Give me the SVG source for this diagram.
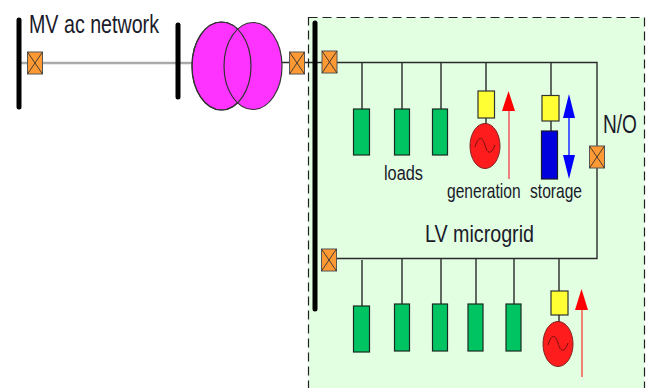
<svg xmlns="http://www.w3.org/2000/svg" width="646" height="388" viewBox="0 0 646 388">
<defs>
<style>
.t{font-family:"Liberation Sans",Arial,sans-serif;fill:#1a1a2a}
.bus{stroke:#000;stroke-width:5;stroke-linecap:round;fill:none}
.w{stroke:#2a2a2a;stroke-width:1.4;fill:none}
.sw{fill:#ff9933;stroke:#555;stroke-width:1}
.x{stroke:#333;stroke-width:.9;fill:none}
.load{fill:#00c462;stroke:#1a2a20;stroke-width:1.200}
.y{fill:#ffff33;stroke:#333;stroke-width:1.200}
.gen{fill:#ff1c1c;stroke:#802020;stroke-width:1}
.sine{fill:none;stroke:#701010;stroke-width:1}
</style>
<g id="switch"><rect class="sw" x="-7.500" y="-11" width="15" height="22"/><path class="x" d="M-7.500-11L7.500 11M7.500-11L-7.500 11"/></g>
</defs>
<rect id="microgrid" x="308.500" y="17.500" width="336" height="375" fill="#e2ffe2" stroke="#222" stroke-width="1.200" stroke-dasharray="9 5"/>
<g id="connectors">
<path d="M19 63H192" stroke="#aaa" stroke-width="2.500" fill="none"/>
<path class="w" d="M282 62.500H597V258.500H330"/>
<path class="w" d="M362 62.500V109M402 62.500V109M441 62.500V109M486 62.500V91M551 62.500V96M551 121V131M486 118V124"/>
<path class="w" d="M362 260V306M402 258V304M441 258V304M476 258V304M514 258V304M559 258V291M559 315V323"/>
<path d="M509 108V179" stroke="#f08080" stroke-width="2"/>
<path d="M569 116V158" stroke="#4a60ff" stroke-width="2"/>
<path d="M582 308V377" stroke="#ff3030" stroke-width="1.200"/>
<path d="M502 111L508.500 91L515 111Z" fill="#ff0000"/>
<path d="M563 118L569 94L575 118Z" fill="#0000ff"/>
<path d="M563 155H575L569 179Z" fill="#0000ff"/>
<path d="M575 310L581.500 289L588 310Z" fill="#ff0000"/>
</g>
<g id="bus-mv1"><path class="bus" d="M19 20V107"/></g>
<g id="bus-mv2"><path class="bus" d="M178 25V97"/></g>
<g id="bus-lv"><path class="bus" d="M315 23V309"/></g>
<g id="transformer" fill="#ff33ff" stroke="#333" stroke-width="1.200">
<ellipse cx="221.500" cy="66" rx="29.500" ry="44"/>
<ellipse cx="253" cy="66" rx="29" ry="43.500"/>
<ellipse cx="221.500" cy="66" rx="29.500" ry="44" fill="none"/>
</g>
<g id="sw1"><use href="#switch" x="35" y="63"/></g>
<g id="sw2"><use href="#switch" x="297" y="63"/></g>
<g id="sw3"><use href="#switch" x="329.500" y="62"/></g>
<g id="sw4"><use href="#switch" x="597" y="157"/></g>
<g id="sw5"><use href="#switch" x="329" y="260"/></g>
<g id="loads-top">
<rect class="load" x="353.500" y="109" width="16" height="46"/>
<rect class="load" x="394.500" y="109" width="15" height="46"/>
<rect class="load" x="432.500" y="109" width="15" height="46"/>
</g>
<g id="loads-bottom">
<rect class="load" x="353.500" y="306" width="16" height="46"/>
<rect class="load" x="394.500" y="304" width="15" height="47"/>
<rect class="load" x="432.500" y="304" width="15" height="47"/>
<rect class="load" x="468" y="304" width="15" height="47"/>
<rect class="load" x="506" y="304" width="15" height="47"/>
</g>
<g id="generator-top">
<rect class="y" x="478" y="91" width="16.500" height="27"/>
<ellipse class="gen" cx="485" cy="146" rx="15" ry="22.500"/>
<path class="sine" d="M475 147C479 134 483 138 485 145C487 153 491 156 495 145"/>
</g>
<g id="storage">
<rect class="y" x="542" y="95.500" width="17" height="25.500"/>
<rect x="541.500" y="131" width="16" height="48" fill="#0000dd" stroke="#1a1a2a" stroke-width="1.200"/>
</g>
<g id="generator-bottom">
<rect class="y" x="551" y="291" width="17" height="24"/>
<ellipse class="gen" cx="558" cy="344" rx="15" ry="22.500"/>
<path class="sine" d="M548 345C552 332 556 336 558 343C560 351 564 354 568 343"/>
</g>
<text class="t" x="29" y="33" font-size="26" textLength="130" lengthAdjust="spacingAndGlyphs">MV ac network</text>
<text class="t" x="603" y="133" font-size="25" textLength="34" lengthAdjust="spacingAndGlyphs">N/O</text>
<text class="t" x="384" y="180" font-size="20" textLength="39" lengthAdjust="spacingAndGlyphs">loads</text>
<text class="t" transform="translate(447 198) scale(.78 1)" font-size="20">generation</text>
<text class="t" transform="translate(530 198) scale(.78 1)" font-size="20">storage</text>
<text class="t" x="425" y="242" font-size="24" textLength="109" lengthAdjust="spacingAndGlyphs">LV microgrid</text>
</svg>
